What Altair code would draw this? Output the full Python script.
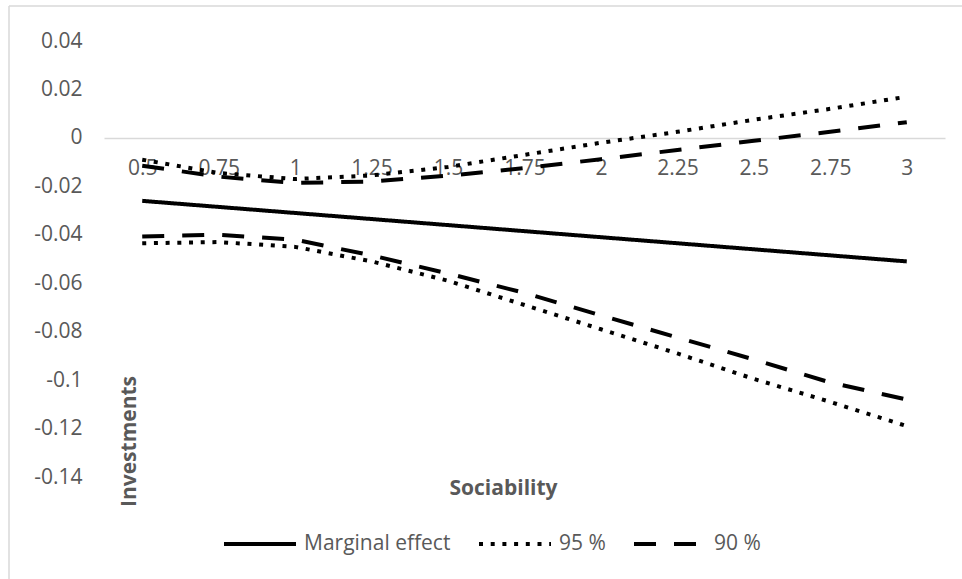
import altair as alt
import pandas as pd

# ---- data ----
x_labels = ["0.5", "0.75", "1", "1.25", "1.5", "1.75", "2", "2.25", "2.5", "2.75", "3"]
marginal = [-0.026, -0.0285, -0.031, -0.0335, -0.036, -0.0385, -0.041, -0.0435, -0.046, -0.0485, -0.051]
upper95 = [-0.009, -0.0145, -0.017, -0.0155, -0.012, -0.007, -0.002, 0.0025, 0.0075, 0.012, 0.017]
lower95 = [-0.0435, -0.043, -0.045, -0.051, -0.059, -0.069, -0.079, -0.089, -0.0995, -0.109, -0.119]
upper90 = [-0.0115, -0.016, -0.0186, -0.018, -0.0156, -0.0125, -0.0088, -0.005, -0.0012, 0.0025, 0.0065]
lower90 = [-0.0407, -0.040, -0.042, -0.0485, -0.056, -0.064, -0.0733, -0.0824, -0.0915, -0.101, -0.108]
y_ticks = [0.04, 0.02, 0, -0.02, -0.04, -0.06, -0.08, -0.1, -0.12, -0.14]
series_names = ["Marginal effect", "95 %", "90 %"]

rows = []
for name, line, vals in [
    ("Marginal effect", "me", marginal),
    ("95 %", "95u", upper95),
    ("95 %", "95l", lower95),
    ("90 %", "90u", upper90),
    ("90 %", "90l", lower90),
]:
    for xl, v in zip(x_labels, vals):
        rows.append({"x": xl, "y": v, "series": name, "line": line})
df = pd.DataFrame(rows)

GRAY = "#595959"
FONT = "Open Sans"

lines = alt.Chart(df).mark_line(strokeWidth=4, color="black").encode(
    x=alt.X(
        "x:O",
        sort=x_labels,
        scale=alt.Scale(padding=0.5),
        axis=alt.Axis(
            title="Sociability",
            offset=-339.1,
            ticks=False,
            tickSize=0,
            labelAngle=0,
            labelPadding=31,
            labelBaseline="middle",
            domainColor="#d9d9d9",
            domainWidth=1.5,
            grid=False,
            titleX=399,
            titleY=351,
            titleBaseline="middle",
        ),
    ),
    y=alt.Y(
        "y:Q",
        scale=alt.Scale(domain=[-0.14, 0.04], nice=False, zero=False),
        axis=alt.Axis(
            title="Investments",
            values=y_ticks,
            domain=False,
            ticks=False,
            tickSize=0,
            grid=False,
            labelPadding=22,
            labelExpr="toString(round(datum.value*100)/100)",
            titleAngle=270,
            titleX=25,
            titleY=400,
            titleBaseline="middle",
            titleAlign="center",
        ),
    ),
    strokeDash=alt.StrokeDash(
        "series:N",
        scale=alt.Scale(domain=series_names, range=[[1, 0], [4, 7.7], [22, 18]]),
        legend=alt.Legend(
            title=None,
            orient="none",
            legendX=118,
            legendY=465,
            direction="horizontal",
            symbolType="stroke",
            symbolSize=5184,
            symbolStrokeWidth=4,
            symbolStrokeColor="black",
            labelOffset=6,
            columnPadding=20,
            padding=0,
        ),
    ),
    detail="line:N",
)

frame = alt.Chart(alt.Data(values=[{}])).mark_rule(color="#d9d9d9", strokeWidth=1.5).encode(
    x=alt.value(-95), y=alt.value(-35), y2=alt.value(540)
)
frame_top = alt.Chart(alt.Data(values=[{}])).mark_rule(color="#d9d9d9", strokeWidth=1.5).encode(
    x=alt.value(-95), x2=alt.value(860), y=alt.value(-35)
)

chart = alt.layer(frame, frame_top, lines).properties(
    width=841,
    height=436,
    background="white",
    autosize=alt.AutoSizeParams(type="none"),
    padding={"left": 104, "top": 41, "right": 17, "bottom": 102},
).configure_view(stroke=None).configure_axis(
    labelFont=FONT, labelFontSize=21, labelColor=GRAY,
    titleFont=FONT, titleFontSize=21, titleColor=GRAY, titleFontWeight="bold",
).configure_legend(
    labelFont=FONT, labelFontSize=21, labelColor=GRAY,
)

chart.save("out.html", embed_options={"renderer": "svg", "actions": False})
